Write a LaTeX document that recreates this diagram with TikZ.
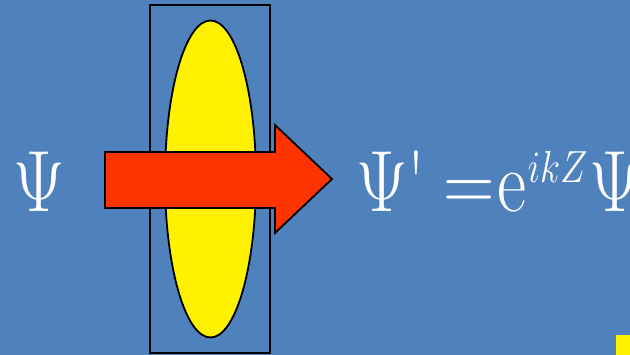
\RequirePackage{fix-cm}
\documentclass[tikz,border=0pt]{standalone}
\usetikzlibrary{shapes.geometric}
\definecolor{slideblue}{HTML}{4F81BD}
\definecolor{beamred}{HTML}{FF3300}
\begin{document}
\begin{tikzpicture}[
    x=1pt, y=1pt,
    lensbox/.style={draw, ellipse, line width=1.8pt, fill=yellow, minimum width=91pt, minimum height=317pt, inner sep=0pt},
    framebox/.style={draw, rectangle, line width=1.8pt, minimum width=120pt, minimum height=348pt, inner sep=0pt},
    wave/.style={text=white, font=\fontsize{87}{90}\selectfont, inner sep=0pt, xscale=0.82, transform shape}
]

% Background
\fill[slideblue] (0,0) rectangle (630,355);
\useasboundingbox (0,0) rectangle (630,355);

% Frame and lens
\node (frame) [framebox] at (210,176) {};
\node (lens) [lensbox] at (210.5,176) {};

% Beam
\draw[line width=1.8pt, fill=beamred] (105,203) -- (275,203) -- (275,230) -- (332,176)
    -- (275,122) -- (275,147) -- (105,147) -- cycle;

% Wave functions
\node (psiin) [wave, anchor=base west] at (13,143) {$\Psi$};
\node (psiout) [wave, anchor=base west] at (356,143)
    {$\Psi$\kern0pt\textquotesingle\kern22pt$=$\kern3pt$\mathrm{e}$\kern2pt\raisebox{29pt}{\fontsize{45}{45}\selectfont$ikZ$}\kern2pt$\Psi$};

% Corner mark
\fill[yellow] (616,0) rectangle (630,20);

\end{tikzpicture}
\end{document}
